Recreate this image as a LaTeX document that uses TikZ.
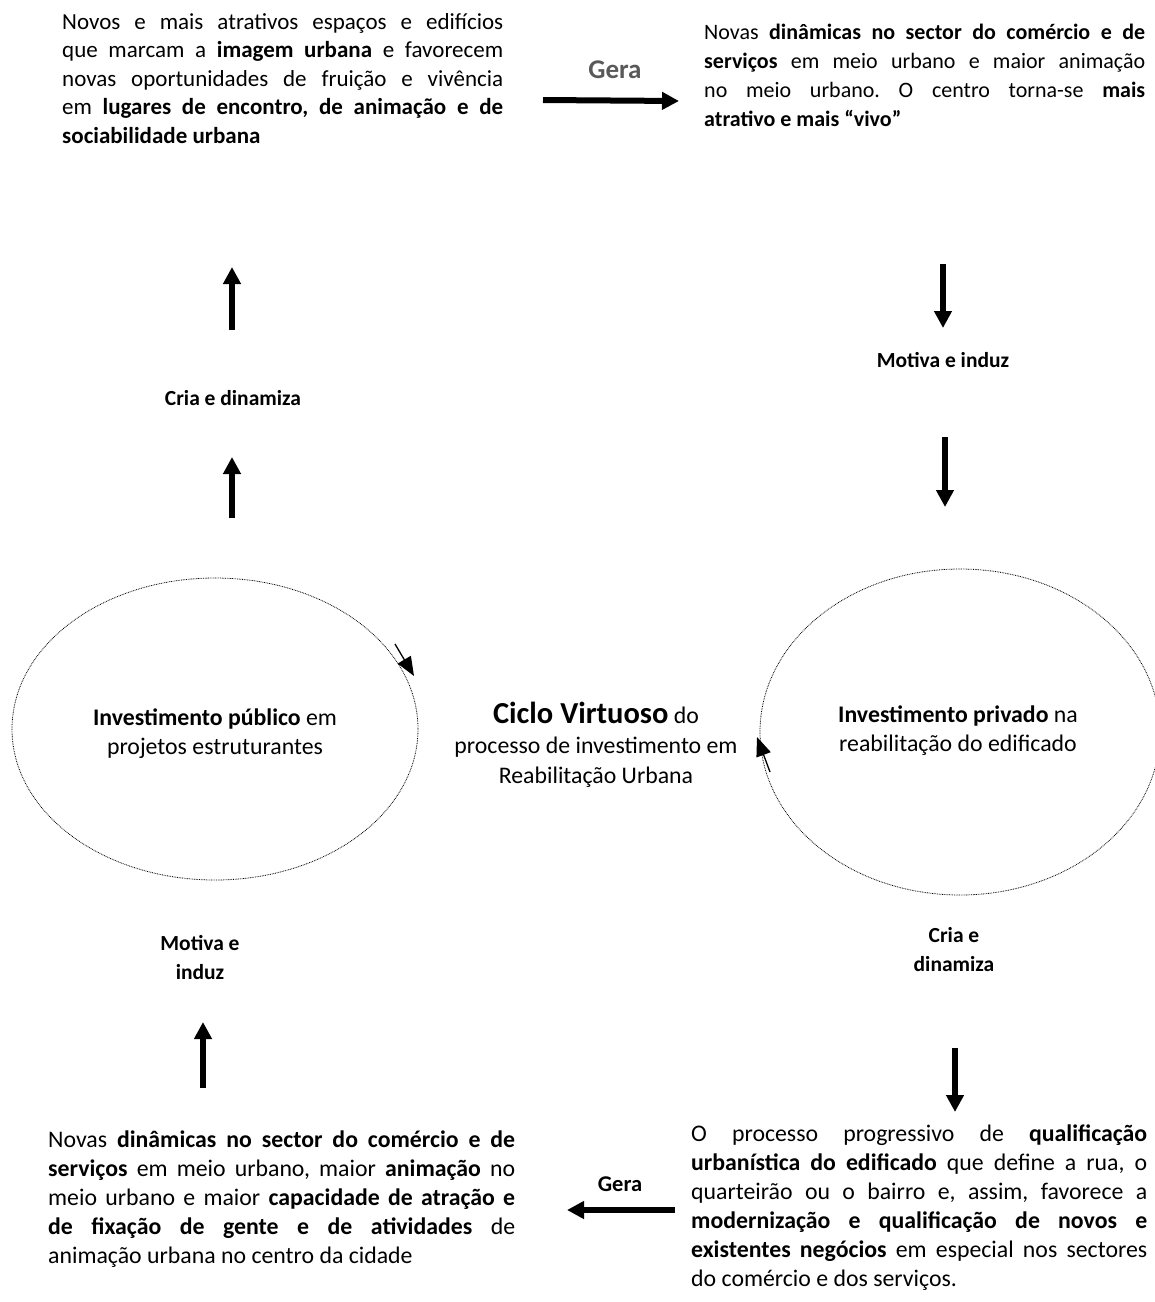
\documentclass[tikz,border=0pt]{standalone}
\usepackage{fontspec}
\setmainfont{Carlito}
\usetikzlibrary{arrows.meta,shapes.geometric}
\definecolor{geragray}{RGB}{89,89,89}
\tikzset{
 bigarrow/.style={line width=6pt, -{Triangle[length=17pt,width=17pt]}},
 smallarrow/.style={line width=1.3pt, -{Triangle[length=19pt,width=15pt]}},
 ring/.style={draw, ellipse, line width=0.8pt, dash pattern=on 0.8pt off 0.9pt, inner sep=0},
 para/.style={anchor=base west, inner sep=0},
 ctext/.style={align=center, inner sep=0, anchor=base, font=\fontsize{23.8}{29}\selectfont},
 lbl/.style={font=\bfseries\fontsize{21.5}{29}\selectfont, align=center, inner sep=0, anchor=base}
}
\newcommand\jl[1]{\hbox to \hsize{#1}}
\begin{document}
\frenchspacing
\begin{tikzpicture}[x=1pt,y=-1pt]
\useasboundingbox (0,0) rectangle (1155,1302);
% ellipses
\begin{scope}
\clip (0,0) rectangle (1155,1302);
\node[ring, minimum width=406pt, minimum height=302pt] (pubring) at (215,729) {};
\node[ring, minimum width=400pt, minimum height=326pt] (privring) at (960,732) {};
\end{scope}
% top-left text
\node[para] (tl) at (62,29) {\parbox[t]{441pt}{\frenchspacing\fontsize{23}{28.5}\selectfont
\jl{Novos e mais atrativos espaços e edifícios}
\jl{que marcam a \textbf{imagem urbana} e favorecem}
\jl{novas oportunidades de fruição e vivência}
\jl{em \textbf{lugares de encontro, de animação e de}}
\hbox{\textbf{sociabilidade urbana}}}};
% top-right text
\node[para] (tr) at (704,39) {\parbox[t]{441pt}{\frenchspacing\fontsize{22}{29}\selectfont
\jl{Novas \textbf{dinâmicas no sector do comércio e de}}
\jl{\textbf{serviços} em meio urbano e maior animação}
\jl{no meio urbano. O centro torna-se \textbf{mais}}
\hbox{\textbf{atrativo e mais “vivo”}}}};
% bottom-left text
\node[para] (bl) at (48,1147) {\parbox[t]{467pt}{\frenchspacing\fontsize{23.8}{29}\selectfont
\jl{Novas \textbf{dinâmicas no sector do comércio e de}}
\jl{\textbf{serviços} em meio urbano, maior \textbf{animação} no}
\jl{meio urbano e maior \textbf{capacidade de atração e}}
\jl{\textbf{de fixação de gente e de atividades} de}
\hbox{animação urbana no centro da cidade}}};
% bottom-right text
\node[para] (br) at (691,1141) {\parbox[t]{456pt}{\frenchspacing\fontsize{23.8}{29}\selectfont
\jl{O processo progressivo de \textbf{qualificação}}
\jl{\textbf{urbanística do edificado} que define a rua, o}
\jl{quarteirão ou o bairro e, assim, favorece a}
\jl{\textbf{modernização e qualificação de novos e}}
\jl{\textbf{existentes negócios} em especial nos sectores}
\hbox{do comércio e dos serviços.}}};
% ellipse texts (anchor = baseline of last line)
\node[ctext] (pubtxt) at (215,754) {\textbf{Investimento público} em\\projetos estruturantes};
\node[ctext] (privtxt) at (958,751) {\textbf{Investimento privado} na\\reabilitação do edificado};
\node[ctext, font=\fontsize{23.8}{30}\selectfont] (ciclo) at (596,783) {{\bfseries\fontsize{30.5}{30}\selectfont Ciclo Virtuoso} do\\processo de investimento em\\Reabilitação Urbana};
% labels
\node[anchor=base, inner sep=0, font=\bfseries\fontsize{27}{30}\selectfont, text=geragray] (gera1) at (615,78) {Gera};
\node[anchor=base, inner sep=0, font=\bfseries\fontsize{22.5}{30}\selectfont] (gera2) at (620,1191) {Gera};
\node[lbl] (cria1) at (233,405) {Cria e dinamiza};
\node[lbl] (motiva1) at (943,367) {Motiva e induz};
\node[lbl] (motiva2) at (200,979) {Motiva e\\induz};
\node[lbl] (cria2) at (954,971) {Cria e\\dinamiza};
% arrow coordinates
\coordinate (g1a) at (543,100); \coordinate (g1b) at (679,101);
\coordinate (g2a) at (675,1210); \coordinate (g2b) at (567,1210);
\coordinate (r1a) at (943,264); \coordinate (r1b) at (943,328);
\coordinate (r2a) at (945,437); \coordinate (r2b) at (945,507);
\coordinate (r3a) at (955,1048); \coordinate (r3b) at (955,1112);
\coordinate (l1a) at (232,330); \coordinate (l1b) at (232,267);
\coordinate (l2a) at (232,518); \coordinate (l2b) at (232,457);
\coordinate (l3a) at (203,1088); \coordinate (l3b) at (203,1022);
\coordinate (ea) at (395,644); \coordinate (eb) at (414,676);
\coordinate (fa) at (770,772); \coordinate (fb) at (757,737);
\draw[bigarrow] (g1a) -- (g1b);
\draw[bigarrow] (g2a) -- (g2b);
\draw[bigarrow] (r1a) -- (r1b);
\draw[bigarrow] (r2a) -- (r2b);
\draw[bigarrow] (r3a) -- (r3b);
\draw[bigarrow] (l1a) -- (l1b);
\draw[bigarrow] (l2a) -- (l2b);
\draw[bigarrow] (l3a) -- (l3b);
\draw[smallarrow] (ea) -- (eb);
\draw[smallarrow] (fa) -- (fb);
\end{tikzpicture}
\end{document}
